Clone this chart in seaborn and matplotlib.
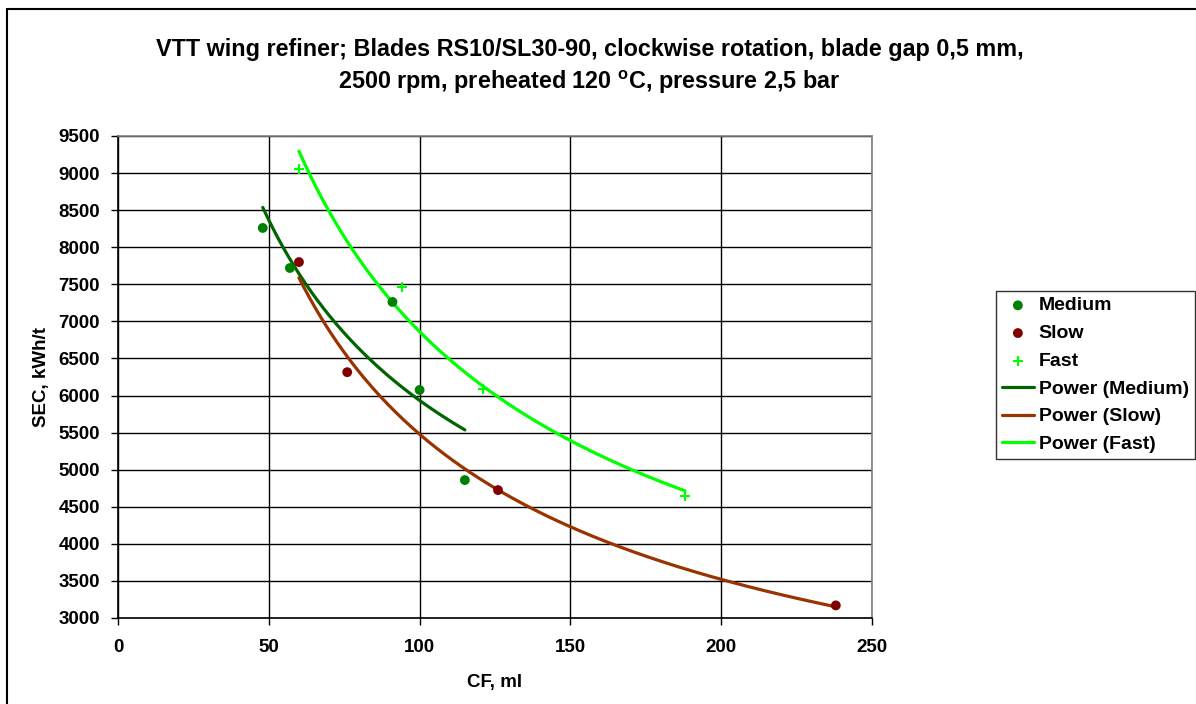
import numpy as np
import pandas as pd
import matplotlib
matplotlib.use("Agg")
import matplotlib.pyplot as plt
import seaborn as sns
from matplotlib.lines import Line2D

# ---- data ----
medium_cf = [48, 57, 91, 100, 115]
medium_sec = [8260, 7720, 7262, 6075, 4860]
slow_cf = [60, 76, 126, 238]
slow_sec = [7800, 6315, 4725, 3170]
fast_cf = [60, 94, 121, 188]
fast_sec = [9055, 7464, 6088, 4646]

x_ticks = [0, 50, 100, 150, 200, 250]
y_ticks = list(range(3000, 10000, 500))

title = ("VTT wing refiner; Blades RS10/SL30-90, clockwise rotation, blade gap 0,5 mm,\n"
         "2500 rpm, preheated 120 $\\mathregular{^{o}}$C, pressure 2,5 bar")

sns.set_theme(style="white")
plt.rcParams['font.family'] = ['Liberation Sans', 'DejaVu Sans']
plt.rcParams['font.weight'] = 'bold'
plt.rcParams['text.color'] = 'black'
plt.rcParams['axes.labelcolor'] = 'black'
plt.rcParams['xtick.color'] = 'black'
plt.rcParams['ytick.color'] = 'black'

W, H = 1196, 704
fig = plt.figure(figsize=(W/100, H/100), dpi=100)
ax = fig.add_axes([118/W, 1-618/H, (872-118)/W, (618-136)/H])

def power_fit(xs, ys):
    b, loga = np.polyfit(np.log(xs), np.log(ys), 1)
    xx = np.linspace(min(xs), max(xs), 200)
    return pd.DataFrame({"x": xx, "y": np.exp(loga) * xx ** b})

fm = power_fit(medium_cf, medium_sec)
fs = power_fit(slow_cf, slow_sec)
ff = power_fit(fast_cf, fast_sec)

sns.scatterplot(x=medium_cf, y=medium_sec, ax=ax, color="#008000", s=50,
                edgecolor="none", label="Medium", zorder=4)
sns.scatterplot(x=slow_cf, y=slow_sec, ax=ax, color="#800000", s=50,
                edgecolor="none", label="Slow", zorder=4)
sns.scatterplot(x=fast_cf, y=fast_sec, ax=ax, color="#00FF00", marker="+", s=55,
                linewidth=1.5, label="Fast", zorder=4)
sns.lineplot(data=fm, x="x", y="y", ax=ax, color="#006400", lw=2.3,
             label="Power (Medium)", zorder=3, sort=False)
sns.lineplot(data=fs, x="x", y="y", ax=ax, color="#993300", lw=2.3,
             label="Power (Slow)", zorder=3, sort=False)
sns.lineplot(data=ff, x="x", y="y", ax=ax, color="#00FF00", lw=2.3,
             label="Power (Fast)", zorder=3, sort=False)

ax.set_xlim(0, 250)
ax.set_ylim(3000, 9500)
ax.set_xticks(x_ticks)
ax.set_yticks(y_ticks)
ax.set_xticklabels([str(v) for v in x_ticks], fontsize=13.5, fontweight='bold', color='black')
ax.set_yticklabels([str(v) for v in y_ticks], fontsize=13.5, fontweight='bold', color='black')
ax.grid(True, color="#000000", lw=1.0)
ax.set_axisbelow(True)
for side in ["left", "bottom"]:
    ax.spines[side].set_color("black")
    ax.spines[side].set_linewidth(1.2)
for side in ["top", "right"]:
    ax.spines[side].set_color("#808080")
    ax.spines[side].set_linewidth(1.2)
ax.tick_params(axis='both', direction='out', length=5, width=1, color='black',
               bottom=True, left=True)
ax.tick_params(axis='y', pad=8)
ax.tick_params(axis='x', pad=10)

ax.set_xlabel("CF, ml", fontsize=13.5, fontweight='bold', labelpad=13, color='black')
ax.set_ylabel("SEC, kWh/t", fontsize=13.5, fontweight='bold', labelpad=6, color='black')

fig.text(0.493, 1-38/H, title, ha='center', va='top', fontsize=16.8,
         fontweight='bold', linespacing=1.4, color='black')

leg = ax.legend(loc='upper left', bbox_to_anchor=(996/W, 1-291/H),
                bbox_transform=fig.transFigure, frameon=True, fancybox=False,
                fontsize=14, borderpad=0.3, labelspacing=0.52, handlelength=1.65,
                handletextpad=0.25, borderaxespad=0, markerscale=1.0)
leg.get_frame().set_edgecolor("black")
leg.get_frame().set_linewidth(1.0)
for t in leg.get_texts():
    t.set_fontweight('bold')
    t.set_color('black')

# outer chart border (left and top edges visible; right/bottom lie outside the picture)
fig.add_artist(Line2D([7/W, 7/W], [0, 1-9/H], transform=fig.transFigure,
                      color='black', lw=1.5))
fig.add_artist(Line2D([7/W, 1], [1-9/H, 1-9/H], transform=fig.transFigure,
                      color='black', lw=1.5))

fig.savefig("out.png", dpi=100)
